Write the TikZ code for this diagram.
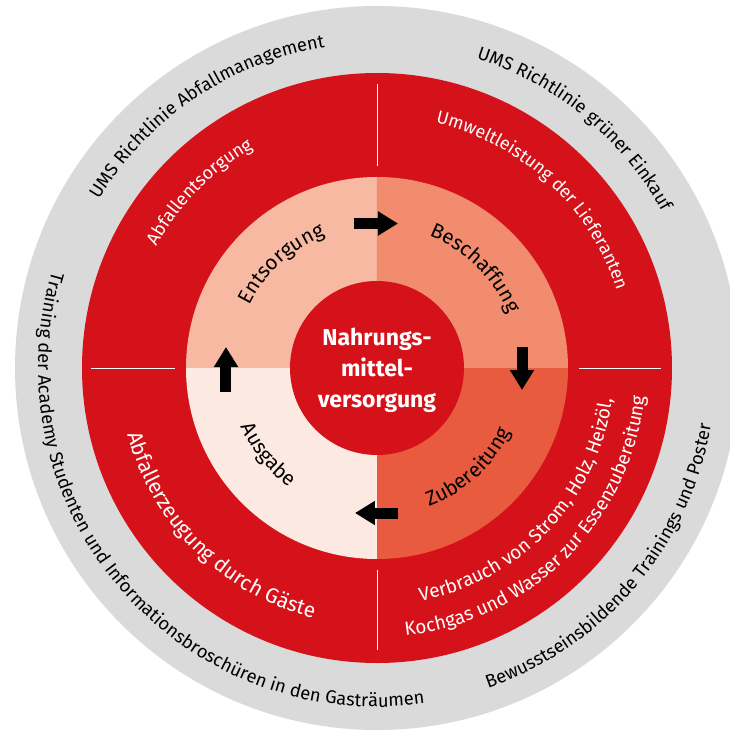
\documentclass[tikz,border=0pt]{standalone}
\usepackage{fontspec}
\setmainfont{Fira Sans}
\usetikzlibrary{decorations.text,arrows.meta}

\definecolor{wheelred}{HTML}{D51219}
\definecolor{ringgrey}{HTML}{DADADA}
\definecolor{qdisposal}{HTML}{F7B9A1}
\definecolor{qpurchase}{HTML}{F18C6F}
\definecolor{qprep}{HTML}{E95B3E}
\definecolor{qserve}{HTML}{FCEAE2}

% text set clockwise along an arc (reads on the upper half)
% #1 radius, #2 middle angle, #3 half span, #4 format, #5 text
\newcommand\cwarctext[5]{%
  \path[decorate,decoration={text along path,text align=center,
    text={|#4|#5}}]
    ({#2+#3}:#1) arc[start angle={#2+#3},end angle={#2-#3},radius=#1];}
% text set counter-clockwise along an arc (reads on the lower half)
\newcommand\ccwarctext[5]{%
  \path[decorate,decoration={text along path,text align=center,
    text={|#4|#5}}]
    ({#2-#3}:#1) arc[start angle={#2-#3},end angle={#2+#3},radius=#1];}

\newcommand\stagefont{\fontsize{20.5}{24}\selectfont}
\newcommand\impactfont{\fontsize{18}{22}\selectfont\color{white}}
\newcommand\measurefont{\fontsize{18.3}{22}\selectfont}

\tikzset{
  blockarrow/.style={line width=11pt,-{Triangle[length=20pt,width=23pt]}},
  divider/.style={white,line width=0.9pt},
  hubtext/.style={text=white,align=center,
    font=\bfseries\fontsize{23}{31}\selectfont}
}

\begin{document}
\begin{tikzpicture}
\useasboundingbox (-377pt,-363pt) rectangle (352pt,368pt);

% rings
\fill[ringgrey] (0,0) circle[radius=362pt];
\fill[wheelred] (0,0) circle[radius=295pt];

% four process quadrants
\fill[qdisposal] (0,0) -- (180:191pt) arc[start angle=180,end angle=90,radius=191pt] -- cycle;
\fill[qpurchase] (0,0) -- (90:191pt) arc[start angle=90,end angle=0,radius=191pt] -- cycle;
\fill[qprep] (0,0) -- (0:191pt) arc[start angle=0,end angle=-90,radius=191pt] -- cycle;
\fill[qserve] (0,0) -- (-90:191pt) arc[start angle=-90,end angle=-180,radius=191pt] -- cycle;

% hub
\fill[wheelred] (0,0) circle[radius=87pt];
\node[hubtext] (hub) at (0,-2pt) {Nahrungs-\\mittel-\\versorgung};

% dividers in the red ring
\draw[divider] (90:202pt) -- (90:284pt);
\draw[divider] (180:202pt) -- (180:286pt);
\draw[divider] (0:202pt) -- (0:284pt);
\draw[divider] (-90:202pt) -- (-90:282pt);

% cycle arrows
\coordinate (a1s) at (-23pt,144.5pt); \coordinate (a1e) at (21pt,144.5pt);
\coordinate (a2s) at (145pt,21pt);    \coordinate (a2e) at (145pt,-22pt);
\coordinate (a3s) at (21pt,-145pt);   \coordinate (a3e) at (-22pt,-145pt);
\coordinate (a4s) at (-151pt,-24pt);  \coordinate (a4e) at (-151pt,21pt);
\draw[blockarrow] (a1s) -- (a1e);
\draw[blockarrow] (a2s) -- (a2e);
\draw[blockarrow] (a3s) -- (a3e);
\draw[blockarrow] (a4s) -- (a4e);

% process names
\cwarctext{142pt}{132.6}{70}{\stagefont}{Entsorgung}
\cwarctext{142pt}{45.4}{70}{\stagefont}{Beschaffung}
\ccwarctext{148pt}{312.4}{70}{\stagefont}{Zubereitung}
\ccwarctext{148pt}{218.5}{70}{\stagefont}{Ausgabe}

% impacts
\cwarctext{252pt}{135.3}{70}{\impactfont}{Abfallentsorgung}
\cwarctext{252pt}{47.2}{70}{\impactfont}{Umweltleistung der Lieferanten}
\ccwarctext{258pt}{225.3}{70}{\fontsize{21}{24}\selectfont\color{white}}{Abfallerzeugung durch Gäste}
\ccwarctext{237pt}{316.5}{70}{\fontsize{19}{22}\selectfont\color{white}}{Verbrauch von Strom, Holz, Heizöl,}
\ccwarctext{269pt}{315}{70}{\fontsize{19}{22}\selectfont\color{white}}{Kochgas und Wasser zur Essenzubereitung}

% measures
\cwarctext{325pt}{124}{70}{\measurefont}{UMS Richtlinie Abfallmanagement}
\cwarctext{325pt}{50.5}{70}{\measurefont}{UMS Richtlinie grüner Einkauf}
\ccwarctext{339pt}{220.75}{85}{\measurefont}{Training der Academy Studenten und Informationsbroschüren in den Gasträumen}
\ccwarctext{339pt}{319.75}{70}{\measurefont}{Bewusstseinsbildende Trainings und Poster}
\end{tikzpicture}
\end{document}
